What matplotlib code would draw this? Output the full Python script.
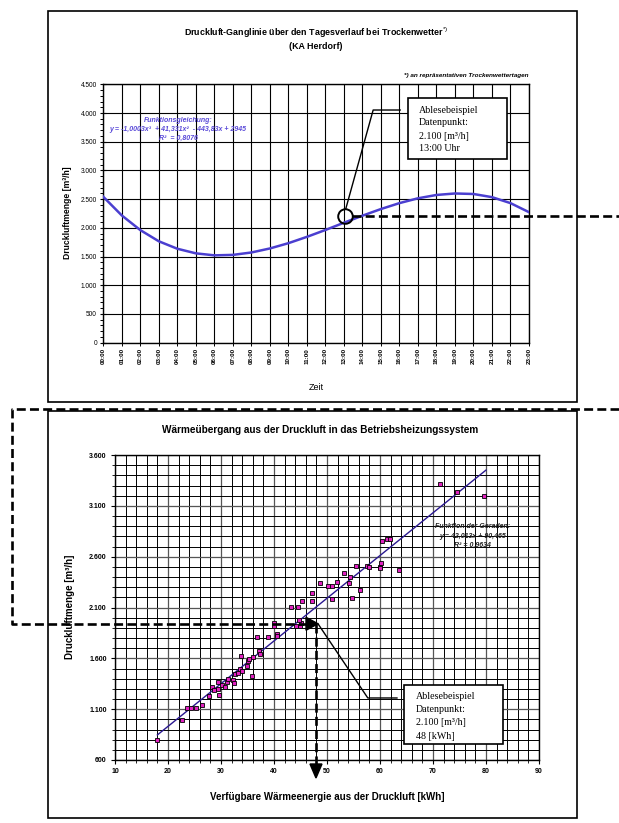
import matplotlib
matplotlib.use('Agg')
import matplotlib.pyplot as plt
import numpy as np
from matplotlib.patches import Rectangle, Polygon
from matplotlib.lines import Line2D
from matplotlib.ticker import FixedLocator, MultipleLocator

plt.rcParams['font.family'] = ['Liberation Sans', 'DejaVu Sans']
plt.rcParams['mathtext.fontset'] = 'custom'
plt.rcParams['mathtext.rm'] = 'Liberation Sans'
plt.rcParams['mathtext.bf'] = 'Liberation Sans:bold'

# ---------------- data ----------------
hours = list(range(24))
hour_labels = [f"{h:02d}:00" for h in hours]
flow_day = [2540, 2215, 1960, 1765, 1635, 1555, 1520, 1528, 1570, 1640, 1732, 1842,
            1962, 2088, 2211, 2327, 2430, 2514, 2572, 2598, 2589, 2534, 2430, 2272]
top_yticks = [0, 500, 1000, 1500, 2000, 2500, 3000, 3500, 4000, 4500]

energy = [17.9, 22.6, 23.6, 24.3, 25.3, 26.5, 27.7, 28.3, 28.7, 29.4, 29.4, 29.6,
          30.1, 30.7, 31.1, 31.4, 32.3, 32.5, 32.6, 33.3, 33.6, 33.9, 33.8, 34.9,
          35.0, 35.3, 35.8, 36.1, 36.7, 37.2, 37.4, 38.9, 40.0, 40.0, 40.5, 40.5,
          44.2, 44.9, 45.0, 43.2, 44.5, 45.2, 44.8, 47.2, 47.2, 48.7, 50.2, 50.9,
          51.0, 51.9, 53.2, 54.2, 54.4, 54.7, 55.5, 56.2, 57.5, 58.0, 60.0, 60.1,
          63.6, 71.4, 74.5, 79.7, 60.4, 61.3, 61.9, 60.0]
airflow = [797, 993, 1108, 1108, 1108, 1141, 1226, 1321, 1288, 1364, 1295, 1242,
           1335, 1321, 1370, 1394, 1387, 1360, 1443, 1459, 1495, 1478, 1623, 1528,
           1577, 1590, 1429, 1616, 1813, 1675, 1643, 1807, 1950, 1918, 1839, 1820,
           1918, 1918, 1950, 2108, 2108, 2161, 1977, 2243, 2167, 2338, 2315, 2315,
           2184, 2351, 2439, 2338, 2400, 2196, 2508, 2272, 2508, 2495, 2495, 2534,
           2465, 3312, 3236, 3197, 2757, 2774, 2774, 2489]
fit_slope, fit_intercept = 42.013, 90.465
fit_x = [18, 80]
bot_yticks = [600, 1100, 1600, 2100, 2600, 3100, 3600]
bot_xticks = [10, 20, 30, 40, 50, 60, 70, 80, 90]

def fmt_de(v):
    return f"{v:,}".replace(",", ".")

W, H = 619, 823
fig = plt.figure(figsize=(W / 100, H / 100), dpi=100)
fig.patch.set_facecolor('white')

def fbox(l, t, r, b):
    return [l / W, 1 - b / H, (r - l) / W, (b - t) / H]

# outer frames
fig.add_artist(Rectangle((48 / W, 1 - 402 / H), (577 - 48) / W, (402 - 11) / H,
                         transform=fig.transFigure, fill=False, lw=1.2, ec='black'))
fig.add_artist(Rectangle((48 / W, 1 - 818 / H), (577 - 48) / W, (818 - 411) / H,
                         transform=fig.transFigure, fill=False, lw=1.2, ec='black'))

# ---------------- top chart ----------------
ax1 = fig.add_axes(fbox(103.3, 84.3, 529, 342.6))
ax1.set_axisbelow(True)
ax1.plot(hours, flow_day, color='#4b3fd0', lw=1.8, zorder=3)
ax1.set_xlim(0, 23)
ax1.set_ylim(0, 4500)
ax1.set_xticks(hours)
ax1.set_xticklabels(hour_labels, rotation=90, fontsize=4.5, fontweight='bold')
ax1.set_yticks(top_yticks)
ax1.set_yticklabels([fmt_de(v) for v in top_yticks], fontsize=4.7)
ax1.yaxis.set_minor_locator(MultipleLocator(100))
ax1.tick_params(axis='y', which='major', direction='inout', length=5, width=0.8, pad=2)
ax1.tick_params(axis='y', which='minor', direction='out', length=2.5, width=0.7)
ax1.tick_params(axis='x', which='major', direction='out', length=2, width=0.7, pad=2)
ax1.grid(True, which='major', color='black', lw=0.8)
for s in ax1.spines.values():
    s.set_linewidth(1.0)

ax1.text(4.04, 3878, "Funktionsgleichung:", ha='center', va='center', fontsize=5,
         style='italic', fontweight='bold', color='#5a4ad8')
ax1.text(4.04, 3721, "y = -1,0003x³  + 41,331x²  - 443,83x + 2945", ha='center',
         va='center', fontsize=5, style='italic', fontweight='bold', color='#5a4ad8')
ax1.text(4.04, 3564, "R²  = 0,8076", ha='center', va='center', fontsize=5,
         style='italic', fontweight='bold', color='#5a4ad8')

# annotation top
ax1.plot([13.05], [2200], marker='o', ms=10.5, mfc='none', mec='black', mew=1.4,
         zorder=6, clip_on=False)
ax1.plot([13.1, 14.58, 16.04], [2330, 4052, 4052], color='black', lw=1.0, zorder=5)
ax1.add_patch(Rectangle((16.47, 3199), 21.82 - 16.47, 4262 - 3199, fc='white',
                        ec='black', lw=1.2, zorder=6))
for yy, tt in zip([4052, 3826, 3599, 3373],
                  ["Ablesebeispiel", "Datenpunkt:", "2.100 [m³/h]", "13:00 Uhr"]):
    ax1.text(17.06, yy, tt, ha='left', va='center', fontsize=7.2,
             family=['Liberation Serif', 'DejaVu Serif'], zorder=7)

fig.text(316 / W, 1 - 33 / H, r"Druckluft-Ganglinie über den Tagesverlauf bei Trockenwetter$^{*)}$",
         ha='center', va='center', fontsize=6.4, fontweight='bold')
fig.text(316 / W, 1 - 46.5 / H, "(KA Herdorf)", ha='center', va='center', fontsize=6.4,
         fontweight='bold')
fig.text(529 / W, 1 - 75 / H, "*) an repräsentativen Trockenwettertagen", ha='right',
         va='center', fontsize=4.6, style='italic', fontweight='bold')
fig.text(316 / W, 1 - 388 / H, "Zeit", ha='center', va='center', fontsize=6.5)
fig.text(67 / W, 1 - 213 / H, "Druckluftmenge [m³/h]", ha='center', va='center',
         rotation=90, fontsize=6.2, fontweight='bold')

# ---------------- bottom chart ----------------
ax2 = fig.add_axes(fbox(115, 455, 539, 760))
ax2.set_axisbelow(True)
ax2.set_xlim(10, 90)
ax2.set_ylim(600, 3600)
ax2.xaxis.set_major_locator(FixedLocator(bot_xticks))
ax2.xaxis.set_minor_locator(MultipleLocator(2))
ax2.yaxis.set_major_locator(FixedLocator(bot_yticks))
ax2.yaxis.set_minor_locator(MultipleLocator(100))
ax2.set_xticklabels([str(v) for v in bot_xticks], fontsize=5, fontweight='bold')
ax2.set_yticklabels([fmt_de(v) for v in bot_yticks], fontsize=5, fontweight='bold')
ax2.tick_params(which='major', direction='out', length=3, width=0.8, pad=3)
ax2.tick_params(which='minor', direction='out', length=2, width=0.6)
ax2.grid(True, which='major', color='#555555', lw=0.9)
ax2.grid(True, which='minor', color='black', lw=0.7)
for s in ax2.spines.values():
    s.set_linewidth(1.0)

fx = np.array(fit_x, dtype=float)
ax2.plot(fx, fit_slope * fx + fit_intercept, color='#2a1890', lw=1.0, zorder=3)
ax2.plot(energy, airflow, ls='none', marker='s', ms=3.3, mfc='#e020c0', mec='black',
         mew=0.6, zorder=4)

ax2.text(77.4, 2892, "Funktion der Geraden:", ha='center', va='center', fontsize=5,
         style='italic', fontweight='bold', color='#222222', zorder=5)
ax2.text(77.4, 2803, "y = 42,013x + 90,465", ha='center', va='center', fontsize=5,
         style='italic', fontweight='bold', color='#222222', zorder=5)
ax2.text(77.4, 2715, "R² = 0,9634", ha='center', va='center', fontsize=5,
         style='italic', fontweight='bold', color='#222222', zorder=5)

ax2.plot([48.3, 57.7, 63.2], [1940, 1210, 1210], color='black', lw=1.0, zorder=5)
ax2.add_patch(Rectangle((64.5, 757), 83.2 - 64.5, 1338 - 757, fc='white', ec='black',
                        lw=1.2, zorder=6))
for yy, tt in zip([1220, 1092, 964, 836],
                  ["Ablesebeispiel", "Datenpunkt:", "2.100 [m³/h]", "48 [kWh]"]):
    ax2.text(66.8, yy, tt, ha='left', va='center', fontsize=7.2,
             family=['Liberation Serif', 'DejaVu Serif'], zorder=7)

fig.text(320 / W, 1 - 430 / H, "Wärmeübergang aus der Druckluft in das Betriebsheizungssystem",
         ha='center', va='center', fontsize=7.2, fontweight='bold')
fig.text(327 / W, 1 - 797 / H, "Verfügbare Wärmeenergie aus der Druckluft [kWh]",
         ha='center', va='center', fontsize=7, fontweight='bold')
fig.text(70 / W, 1 - 607 / H, "Druckluftmenge [m³/h]", ha='center', va='center',
         rotation=90, fontsize=7, fontweight='bold')

# ---------------- dashed reading path ----------------
inv = fig.transFigure.inverted()
def to_fig(ax, x, y):
    return inv.transform(ax.transData.transform((x, y)))

dash = dict(color='black', lw=1.9, ls=(0, (3.4, 1.6)), transform=fig.transFigure,
            zorder=10)
cx, cy = to_fig(ax1, 13.05, 2200)
fig.add_artist(Line2D([cx + 7.5 / W, 1.0], [cy, cy], **dash))
yc = 1 - 409 / H
xl = 12 / W
bx, by = to_fig(ax2, 48.3, 1940)
fig.add_artist(Line2D([1.0, xl, xl, bx - 12 / W], [yc, yc, by, by], **dash))
vx = bx - 2 / W
ybot = 1 - 764 / H
fig.add_artist(Line2D([vx, vx], [by, ybot], **dash))
fig.add_artist(Polygon([[bx, by], [bx - 12 / W, by + 6.5 / H], [bx - 12 / W, by - 6.5 / H]],
                       closed=True, fc='black', ec='black', transform=fig.transFigure,
                       zorder=11))
fig.add_artist(Polygon([[vx, 1 - 778 / H], [vx - 6 / W, ybot], [vx + 6 / W, ybot]],
                       closed=True, fc='black', ec='black', transform=fig.transFigure,
                       zorder=11))

fig.savefig('out.png', dpi=100)
